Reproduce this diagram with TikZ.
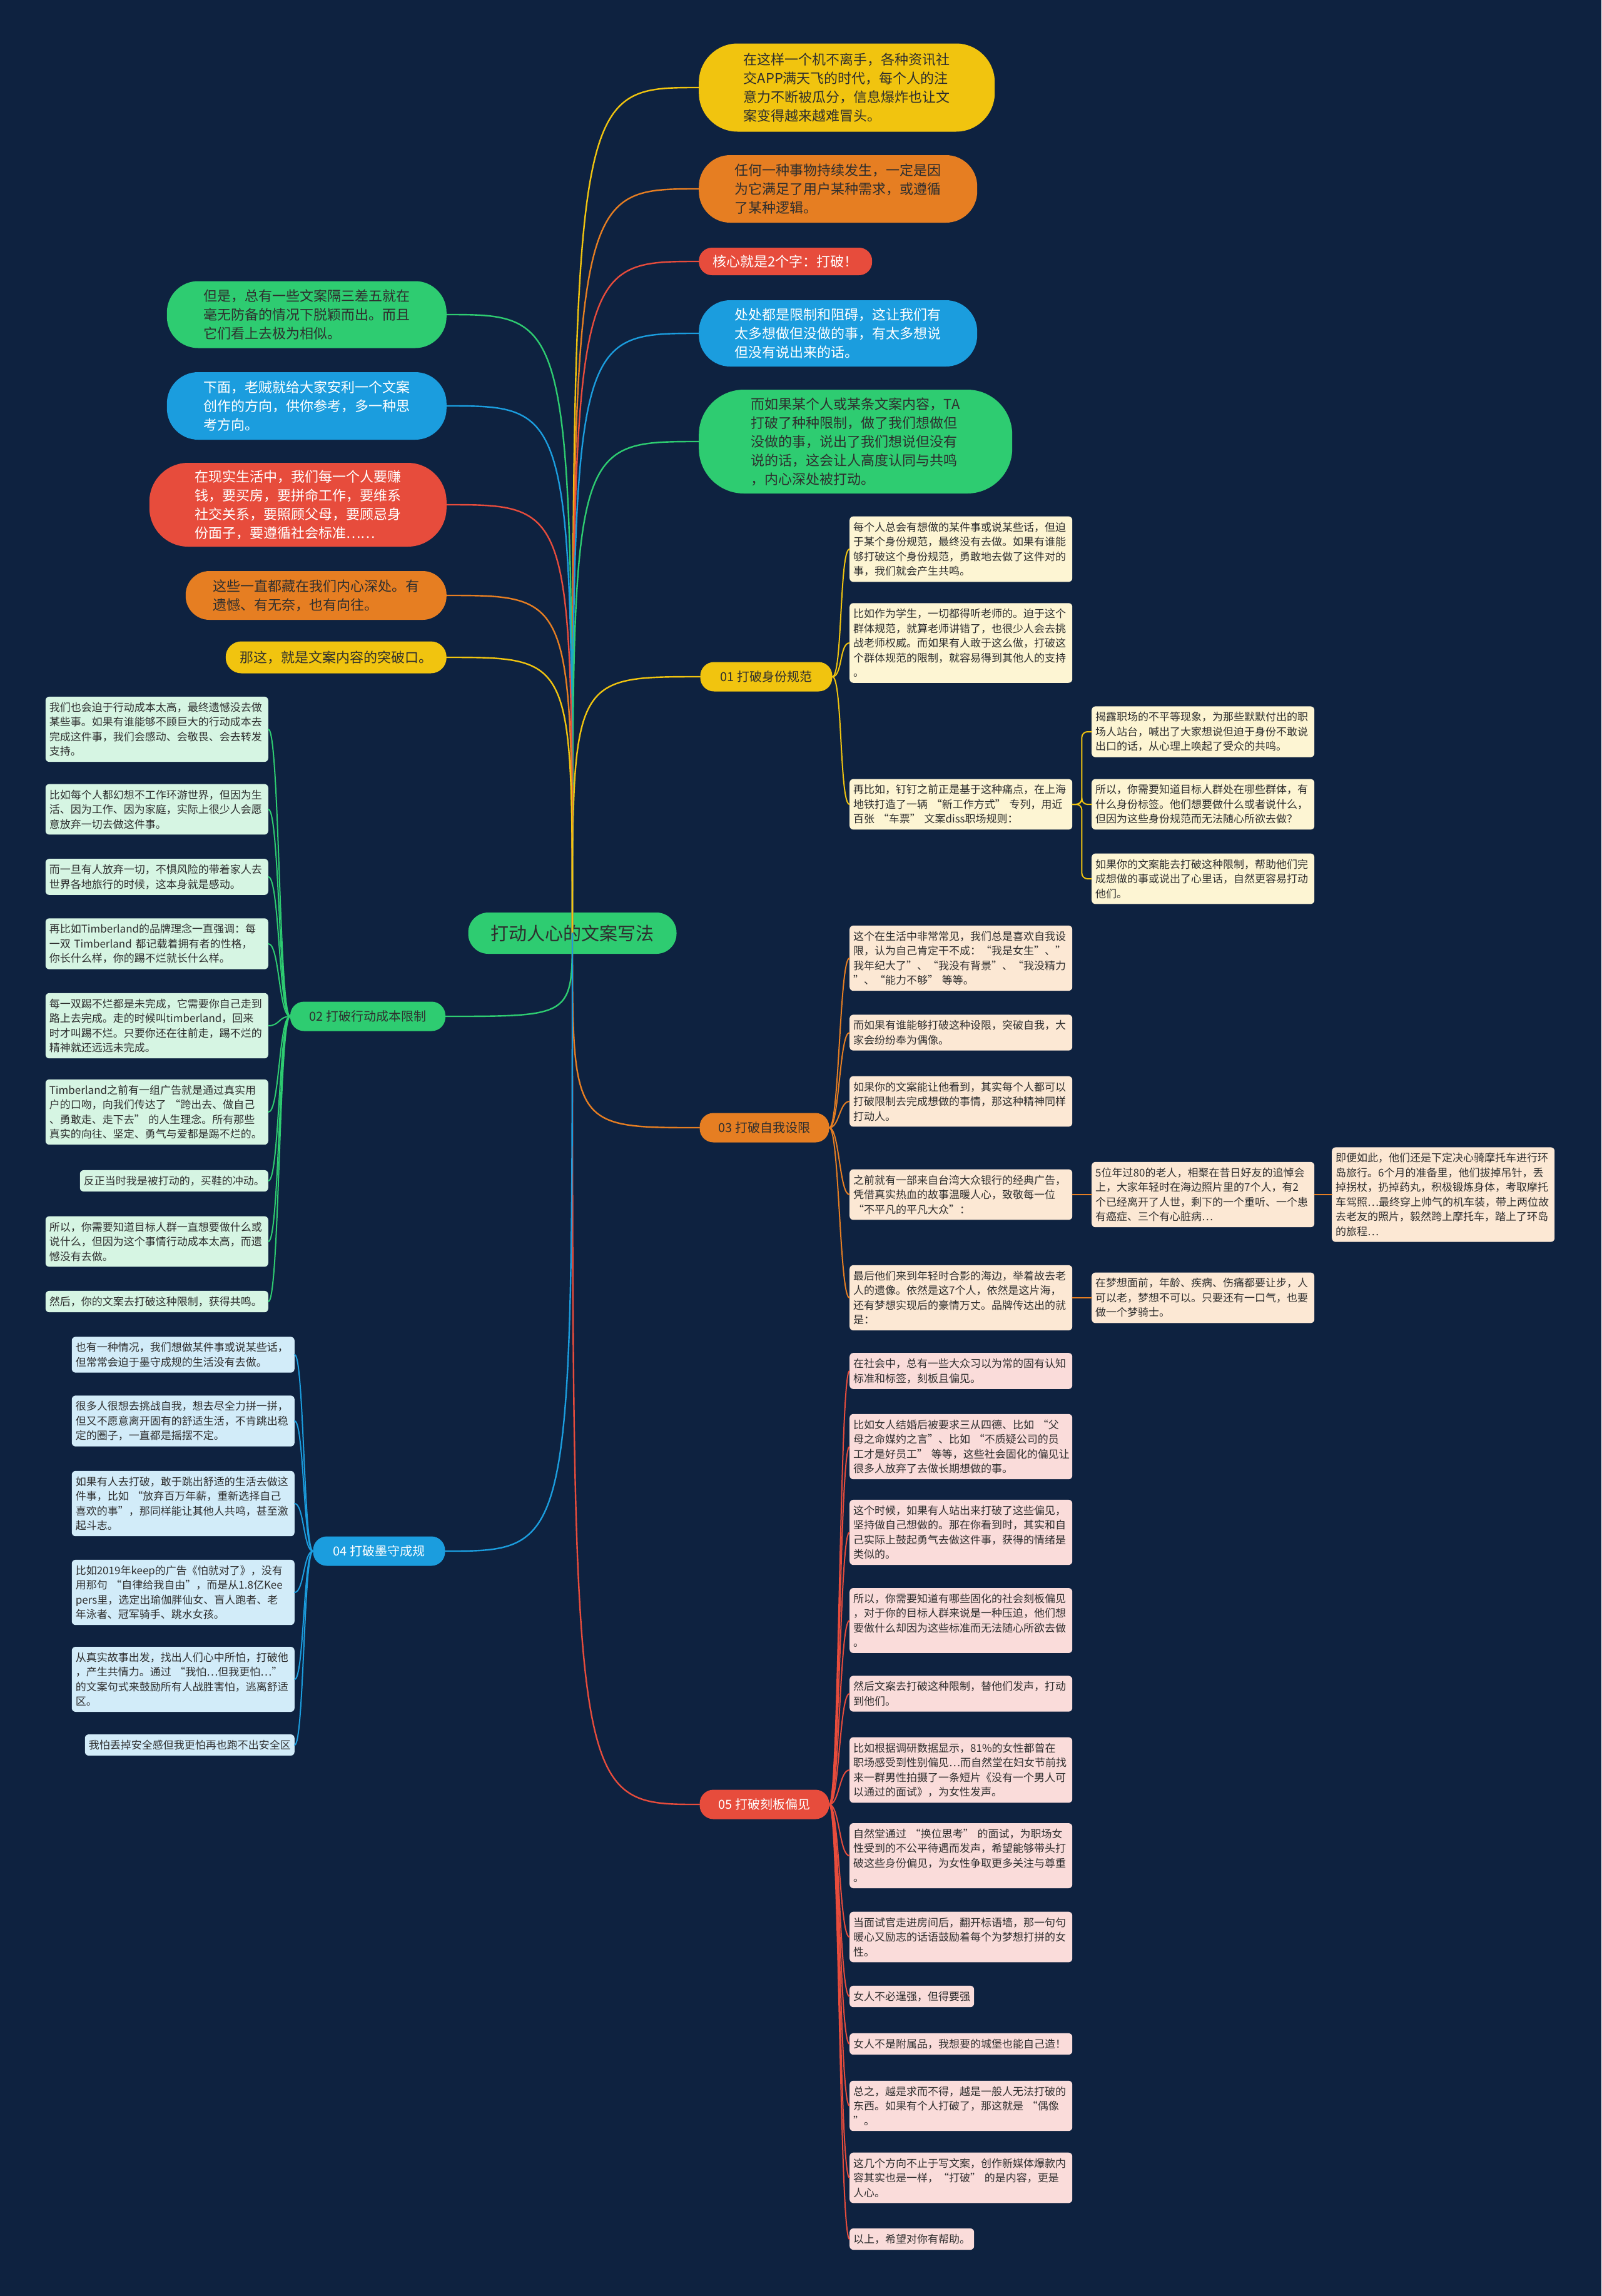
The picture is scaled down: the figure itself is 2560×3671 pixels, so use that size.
\documentclass[tikz,border=0pt]{standalone}
\usepackage{fontspec}
\setmainfont{Noto Sans CJK SC}
\usetikzlibrary{calc}
\definecolor{navybg}{HTML}{0E2240}
\definecolor{mmyellow}{HTML}{F1C40F}
\definecolor{mmorange}{HTML}{E67E22}
\definecolor{mmred}{HTML}{E74C3C}
\definecolor{mmblue}{HTML}{1B9DDE}
\definecolor{mmgreen}{HTML}{2ECC71}
\definecolor{leafyellow}{HTML}{FDF5D3}
\definecolor{leafgreen}{HTML}{D6F5E3}
\definecolor{leaforange}{HTML}{FCE8D4}
\definecolor{leafblue}{HTML}{D2ECF9}
\definecolor{leafred}{HTML}{FADCDA}
\definecolor{inkdark}{HTML}{2E2E2E}

\begin{document}
\begin{tikzpicture}[
  x=1pt,y=-1pt,
  bubble/.style={fill=#1,align=left,inner sep=0pt,font=\fontsize{22}{30}\selectfont,text=inkdark},
  branch/.style={fill=#1,rounded corners=22pt,minimum height=47pt,inner xsep=20pt,inner ysep=0pt,
                 font=\fontsize{20}{24}\selectfont,text=inkdark},
  leaf/.style={fill=#1,rounded corners=6pt,align=left,text width=344pt,inner xsep=6pt,inner ysep=9pt,
               font=\fontsize{17}{23.5}\selectfont,text=inkdark},
  tag/.style={fill=#1,rounded corners=6pt,inner xsep=6pt,inner ysep=9pt,
              font=\fontsize{17}{23.5}\selectfont,text=inkdark},
  link/.style={draw=#1,line width=2.4pt,line cap=round},
  twig/.style={draw=#1,line width=2pt,line cap=round}
]
\useasboundingbox (0,0) rectangle (2560,3671);
\fill[navybg] (0,0) rectangle (2560,3671);
% ---------- root
\node[fill=mmgreen,rounded corners=32pt,minimum width=333pt,minimum height=66pt,
      font=\fontsize{29}{34}\selectfont,text=inkdark] (hub) at (915,1492) {打动人心的文案写法};
% ---------- free notes (upper right)
\node[bubble=mmyellow,anchor=west,minimum width=473pt,minimum height=141pt,rounded corners=62pt] (tp1) at (1117,140)
  {在这样一个机不离手，各种资讯社\\交APP满天飞的时代，每个人的注\\意力不断被瓜分，信息爆炸也让文\\案变得越来越难冒头。};
\node[bubble=mmorange,anchor=west,minimum width=445pt,minimum height=108pt,rounded corners=50pt] (tp2) at (1117,302)
  {任何一种事物持续发生，一定是因\\为它满足了用户某种需求，或遵循\\了某种逻辑。};
\node[bubble=mmred,text=white,anchor=west,minimum width=277pt,minimum height=44pt,rounded corners=21pt] (tp3) at (1117,418)
  {核心就是2个字：打破！};
\node[bubble=mmblue,text=white,anchor=west,minimum width=445pt,minimum height=106pt,rounded corners=50pt] (tp4) at (1117,533)
  {处处都是限制和阻碍，这让我们有\\太多想做但没做的事，有太多想说\\但没有说出来的话。};
\node[bubble=mmgreen,anchor=west,minimum width=501pt,minimum height=166pt,rounded corners=72pt] (tp5) at (1117,706)
  {而如果某个人或某条文案内容，TA\\打破了种种限制，做了我们想做但\\没做的事，说出了我们想说但没有\\说的话，这会让人高度认同与共鸣\\，内心深处被打动。};
% ---------- free notes (upper left)
\node[bubble=mmgreen,anchor=east,minimum width=447pt,minimum height=107pt,rounded corners=50pt] (lf1) at (714,503)
  {但是，总有一些文案隔三差五就在\\毫无防备的情况下脱颖而出。而且\\它们看上去极为相似。};
\node[bubble=mmblue,text=white,anchor=east,minimum width=447pt,minimum height=108pt,rounded corners=50pt] (lf2) at (714,649)
  {下面，老贼就给大家安利一个文案\\创作的方向，供你参考，多一种思\\考方向。};
\node[bubble=mmred,text=white,anchor=east,minimum width=475pt,minimum height=134pt,rounded corners=62pt] (lf3) at (714,807)
  {在现实生活中，我们每一个人要赚\\钱，要买房，要拼命工作，要维系\\社交关系，要照顾父母，要顾忌身\\份面子，要遵循社会标准……};
\node[bubble=mmorange,anchor=east,minimum width=417pt,minimum height=78pt,rounded corners=38pt] (lf4) at (714,952)
  {这些一直都藏在我们内心深处。有\\遗憾、有无奈，也有向往。};
\node[bubble=mmyellow,anchor=east,minimum width=353pt,minimum height=51pt,rounded corners=25pt] (lf5) at (714,1051)
  {那这，就是文案内容的突破口。};
% ---------- main branches
\node[branch=mmyellow,minimum width=211pt] (br1) at (1225,1082) {01 打破身份规范};
\node[branch=mmgreen,minimum width=248pt] (br2) at (588,1625) {02 打破行动成本限制};
\node[branch=mmorange,minimum width=207pt] (br3) at (1222,1803) {03 打破自我设限};
\node[branch=mmblue,text=white,minimum width=211pt] (br4) at (606,2480) {04 打破墨守成规};
\node[branch=mmred,text=white,minimum width=207pt] (br5) at (1222,2885) {05 打破刻板偏见};
% ---------- 01
\node[leaf=leafyellow,anchor=west] (s1a) at (1358,878)
  {每个人总会有想做的某件事或说某些话，但迫\\于某个身份规范，最终没有去做。如果有谁能\\够打破这个身份规范，勇敢地去做了这件对的\\事，我们就会产生共鸣。};
\node[leaf=leafyellow,anchor=west] (s1b) at (1358,1028)
  {比如作为学生，一切都得听老师的。迫于这个\\群体规范，就算老师讲错了，也很少人会去挑\\战老师权威。而如果有人敢于这么做，打破这\\个群体规范的限制，就容易得到其他人的支持\\。};
\node[leaf=leafyellow,anchor=west] (s1c) at (1358,1286)
  {再比如，钉钉之前正是基于这种痛点，在上海\\地铁打造了一辆 “新工作方式” 专列，用近\\百张 “车票” 文案diss职场规则：};
\node[leaf=leafyellow,anchor=west] (s1c1) at (1745,1170)
  {揭露职场的不平等现象，为那些默默付出的职\\场人站台，喊出了大家想说但迫于身份不敢说\\出口的话，从心理上唤起了受众的共鸣。};
\node[leaf=leafyellow,anchor=west] (s1c2) at (1745,1286)
  {所以，你需要知道目标人群处在哪些群体，有\\什么身份标签。他们想要做什么或者说什么，\\但因为这些身份规范而无法随心所欲去做？};
\node[leaf=leafyellow,anchor=west] (s1c3) at (1745,1405)
  {如果你的文案能去打破这种限制，帮助他们完\\成想做的事或说出了心里话，自然更容易打动\\他们。};
% ---------- 02
\node[leaf=leafgreen,anchor=east] (s2a) at (429,1166)
  {我们也会迫于行动成本太高，最终遗憾没去做\\某些事。如果有谁能够不顾巨大的行动成本去\\完成这件事，我们会感动、会敬畏、会去转发\\支持。};
\node[leaf=leafgreen,anchor=east] (s2b) at (429,1294)
  {比如每个人都幻想不工作环游世界，但因为生\\活、因为工作、因为家庭，实际上很少人会愿\\意放弃一切去做这件事。};
\node[leaf=leafgreen,anchor=east] (s2c) at (429,1402)
  {而一旦有人放弃一切，不惧风险的带着家人去\\世界各地旅行的时候，这本身就是感动。};
\node[leaf=leafgreen,anchor=east] (s2d) at (429,1509)
  {再比如Timberland的品牌理念一直强调：每\\一双 Timberland 都记载着拥有者的性格，\\你长什么样，你的踢不烂就长什么样。};
\node[leaf=leafgreen,anchor=east] (s2e) at (429,1640)
  {每一双踢不烂都是未完成，它需要你自己走到\\路上去完成。走的时候叫timberland，回来\\时才叫踢不烂。只要你还在往前走，踢不烂的\\精神就还远远未完成。};
\node[leaf=leafgreen,anchor=east] (s2f) at (429,1778)
  {Timberland之前有一组广告就是通过真实用\\户的口吻，向我们传达了 “跨出去、做自己\\、勇敢走、走下去” 的人生理念。所有那些\\真实的向往、坚定、勇气与爱都是踢不烂的。};
\node[tag=leafgreen,anchor=east] (s2g) at (429,1888) {反正当时我是被打动的，买鞋的冲动。};
\node[leaf=leafgreen,anchor=east] (s2h) at (429,1985)
  {所以，你需要知道目标人群一直想要做什么或\\说什么，但因为这个事情行动成本太高，而遗\\憾没有去做。};
\node[leaf=leafgreen,anchor=east] (s2i) at (429,2081) {然后，你的文案去打破这种限制，获得共鸣。};
% ---------- 03
\node[leaf=leaforange,anchor=west] (s3a) at (1358,1532)
  {这个在生活中非常常见，我们总是喜欢自我设\\限，认为自己肯定干不成：“我是女生”、”\\我年纪大了”、“我没有背景”、“我没精力\\”、“能力不够” 等等。};
\node[leaf=leaforange,anchor=west] (s3b) at (1358,1651)
  {而如果有谁能够打破这种设限，突破自我，大\\家会纷纷奉为偶像。};
\node[leaf=leaforange,anchor=west] (s3c) at (1358,1761)
  {如果你的文案能让他看到，其实每个人都可以\\打破限制去完成想做的事情，那这种精神同样\\打动人。};
\node[leaf=leaforange,anchor=west] (s3d) at (1358,1910)
  {之前就有一部来自台湾大众银行的经典广告，\\凭借真实热血的故事温暖人心，致敬每一位\\“不平凡的平凡大众”：};
\node[leaf=leaforange,anchor=west] (s3d1) at (1745,1910)
  {5位年过80的老人，相聚在昔日好友的追悼会\\上，大家年轻时在海边照片里的7个人，有2\\个已经离开了人世，剩下的一个重听、一个患\\有癌症、三个有心脏病…};
\node[leaf=leaforange,anchor=west] (s3d2) at (2129,1910)
  {即便如此，他们还是下定决心骑摩托车进行环\\岛旅行。6个月的准备里，他们拔掉吊针，丢\\掉拐杖，扔掉药丸，积极锻炼身体，考取摩托\\车驾照…最终穿上帅气的机车装，带上两位故\\去老友的照片，毅然跨上摩托车，踏上了环岛\\的旅程…};
\node[leaf=leaforange,anchor=west] (s3e) at (1358,2075)
  {最后他们来到年轻时合影的海边，举着故去老\\人的遗像。依然是这7个人，依然是这片海，\\还有梦想实现后的豪情万丈。品牌传达出的就\\是：};
\node[leaf=leaforange,anchor=west] (s3e1) at (1745,2075)
  {在梦想面前，年龄、疾病、伤痛都要让步，人\\可以老，梦想不可以。只要还有一口气，也要\\做一个梦骑士。};
% ---------- 04
\node[leaf=leafblue,anchor=east] (s4a) at (471,2166)
  {也有一种情况，我们想做某件事或说某些话，\\但常常会迫于墨守成规的生活没有去做。};
\node[leaf=leafblue,anchor=east] (s4b) at (471,2272)
  {很多人很想去挑战自我，想去尽全力拼一拼，\\但又不愿意离开固有的舒适生活，不肯跳出稳\\定的圈子，一直都是摇摆不定。};
\node[leaf=leafblue,anchor=east] (s4c) at (471,2404)
  {如果有人去打破，敢于跳出舒适的生活去做这\\件事，比如 “放弃百万年薪，重新选择自己\\喜欢的事”，那同样能让其他人共鸣，甚至激\\起斗志。};
\node[leaf=leafblue,anchor=east] (s4d) at (471,2546)
  {比如2019年keep的广告《怕就对了》，没有\\用那句 “自律给我自由”，而是从1.8亿Kee\\pers里，选定出瑜伽胖仙女、盲人跑者、老\\年泳者、冠军骑手、跳水女孩。};
\node[leaf=leafblue,anchor=east] (s4e) at (471,2685)
  {从真实故事出发，找出人们心中所怕，打破他\\，产生共情力。通过 “我怕…但我更怕…”\\的文案句式来鼓励所有人战胜害怕，逃离舒适\\区。};
\node[tag=leafblue,anchor=east] (s4f) at (471,2790) {我怕丢掉安全感但我更怕再也跑不出安全区};
% ---------- 05
\node[leaf=leafred,anchor=west] (s5a) at (1358,2192)
  {在社会中，总有一些大众习以为常的固有认知\\标准和标签，刻板且偏见。};
\node[leaf=leafred,anchor=west] (s5b) at (1358,2313)
  {比如女人结婚后被要求三从四德、比如 “父\\母之命媒妁之言”、比如 “不质疑公司的员\\工才是好员工”~等等，这些社会固化的偏见让\\很多人放弃了去做长期想做的事。};
\node[leaf=leafred,anchor=west] (s5c) at (1358,2450)
  {这个时候，如果有人站出来打破了这些偏见，\\坚持做自己想做的。那在你看到时，其实和自\\己实际上鼓起勇气去做这件事，获得的情绪是\\类似的。};
\node[leaf=leafred,anchor=west] (s5d) at (1358,2591)
  {所以，你需要知道有哪些固化的社会刻板偏见\\，对于你的目标人群来说是一种压迫，他们想\\要做什么却因为这些标准而无法随心所欲去做\\。};
\node[leaf=leafred,anchor=west] (s5e) at (1358,2708)
  {然后文案去打破这种限制，替他们发声，打动\\到他们。};
\node[leaf=leafred,anchor=west] (s5f) at (1358,2830)
  {比如根据调研数据显示，81\%的女性都曾在\\职场感受到性别偏见…而自然堂在妇女节前找\\来一群男性拍摄了一条短片《没有一个男人可\\以通过的面试》，为女性发声。};
\node[leaf=leafred,anchor=west] (s5g) at (1358,2967)
  {自然堂通过 “换位思考” 的面试，为职场女\\性受到的不公平待遇而发声，希望能够带头打\\破这些身份偏见，为女性争取更多关注与尊重\\。};
\node[leaf=leafred,anchor=west] (s5h) at (1358,3097)
  {当面试官走进房间后，翻开标语墙，那一句句\\暖心又励志的话语鼓励着每个为梦想打拼的女\\性。};
\node[tag=leafred,anchor=west] (s5i) at (1358,3192) {女人不必逞强，但得要强};
\node[leaf=leafred,anchor=west] (s5j) at (1358,3268) {女人不是附属品，我想要的城堡也能自己造！};
\node[leaf=leafred,anchor=west] (s5k) at (1358,3367)
  {总之，越是求而不得，越是一般人无法打破的\\东西。如果有个人打破了，那这就是 “偶像\\”。};
\node[leaf=leafred,anchor=west] (s5l) at (1358,3482)
  {这几个方向不止于写文案，创作新媒体爆款内\\容其实也是一样，“打破” 的是内容，更是\\人心。};
\node[tag=leafred,anchor=west] (s5m) at (1358,3580) {以上，希望对你有帮助。};
% ---------- connectors from the root
\foreach \t/\c in {tp1/mmyellow,tp2/mmorange,tp3/mmred,tp4/mmblue,tp5/mmgreen,br1/mmyellow,br3/mmorange,br5/mmred}
  \draw[link=\c] (hub.center) .. controls (hub.center |- \t.west) .. (\t.west);
\foreach \t/\c in {lf1/mmgreen,lf2/mmblue,lf3/mmred,lf4/mmorange,lf5/mmyellow,br2/mmgreen,br4/mmblue}
  \draw[link=\c] (hub.center) .. controls (hub.center |- \t.east) .. (\t.east);
% ---------- connectors to the leaves
\foreach \n in {a,b,c}
  \draw[twig=mmyellow] (br1.east) .. controls +(16,0) and +(-16,0) .. (s1\n.west);
\foreach \n in {1,2,3}
  \draw[twig=mmyellow,rounded corners=9pt] (s1c.east) -- ++(15,0) |- (s1c\n.west);
\foreach \n in {a,b,c,d,e,f,g,h,i}
  \draw[twig=mmgreen] (br2.west) .. controls +(-18,0) and +(18,0) .. (s2\n.east);
\foreach \n in {a,b,c,d,e}
  \draw[twig=mmorange] (br3.east) .. controls +(16,0) and +(-16,0) .. (s3\n.west);
\draw[twig=mmorange] (s3d.east) -- (s3d1.west);
\draw[twig=mmorange] (s3d1.east) -- (s3d2.west);
\draw[twig=mmorange] (s3e.east) -- (s3e1.west);
\foreach \n in {a,b,c,d,e,f}
  \draw[twig=mmblue] (br4.west) .. controls +(-15,0) and +(15,0) .. (s4\n.east);
\foreach \n in {a,b,c,d,e,f,g,h,i,j,k,l,m}
  \draw[twig=mmred] (br5.east) .. controls +(16,0) and +(-16,0) .. (s5\n.west);
\end{tikzpicture}
\end{document}
